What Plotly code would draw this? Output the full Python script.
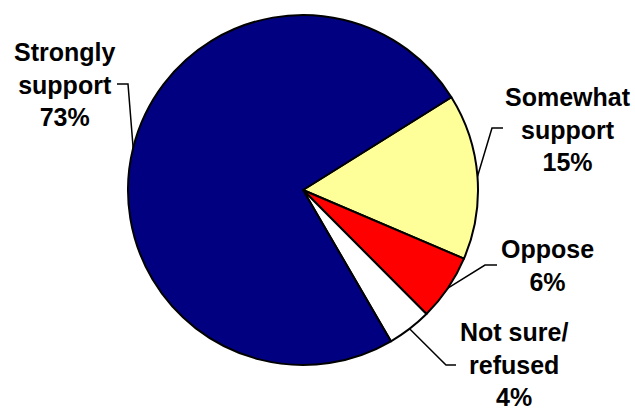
import math
import plotly.graph_objects as go

# Survey responses (percent)
categories = ["Somewhat support", "Oppose", "Not sure/refused", "Strongly support"]
values = [15, 6, 4, 73]
label_texts = ["Somewhat<br>support<br>15%", "Oppose<br>6%", "Not sure/<br>refused<br>4%",
               "Strongly<br>support<br>73%"]
colors = ["#FFFF99", "#FF0000", "#FFFFFF", "#000080"]

W, H = 635, 410
CX, CY, R = 303, 190, 175      # pie centre / radius in pixels
ROTATION = 58                  # first slice starts this many degrees clockwise from 12 o'clock

# label block centres (pixels) and elbow points of the leader lines
label_pos = [(568, 129), (547, 265), (514, 364), (64, 85)]
elbows = [[(492, 128), (503, 128)],
          [(485, 265), (497, 265)],
          [(446, 365), (456, 365)],
          [(128, 84), (117, 84)]]


def px(x, y):
    return x / W, 1 - y / H


fig = go.Figure(go.Pie(
    labels=categories,
    values=values,
    sort=False,
    direction="clockwise",
    rotation=ROTATION,
    marker=dict(colors=colors, line=dict(color="black", width=2)),
    textinfo="none",
    hoverinfo="label+value",
    showlegend=False,
    domain=dict(x=[(CX - R) / W, (CX + R) / W], y=[(H - CY - R) / H, (H - CY + R) / H]),
))

total = sum(values)
cum = 0
shapes = []
annotations = []
for v, txt, (lx, ly), elbow in zip(values, label_texts, label_pos, elbows):
    mid = math.radians(ROTATION + (cum + v / 2) / total * 360)
    cum += v
    ex, ey = CX + R * math.sin(mid), CY - R * math.cos(mid)
    pts = [(ex, ey)] + elbow
    path = "M " + " L ".join("{:.5f},{:.5f}".format(*px(x, y)) for x, y in pts)
    shapes.append(dict(type="path", path=path, xref="paper", yref="paper",
                       line=dict(color="black", width=1.5)))
    ax, ay = px(lx, ly)
    annotations.append(dict(text="<b>" + txt + "</b>", x=ax, y=ay, xref="paper", yref="paper",
                            xanchor="center", yanchor="middle", showarrow=False, align="center",
                            font=dict(family="Arial, Liberation Sans, sans-serif", size=25,
                                      color="black")))

fig.update_layout(
    width=W, height=H,
    margin=dict(l=0, r=0, t=0, b=0),
    paper_bgcolor="white", plot_bgcolor="white",
    shapes=shapes, annotations=annotations,
)

fig.write_html("out.html")
